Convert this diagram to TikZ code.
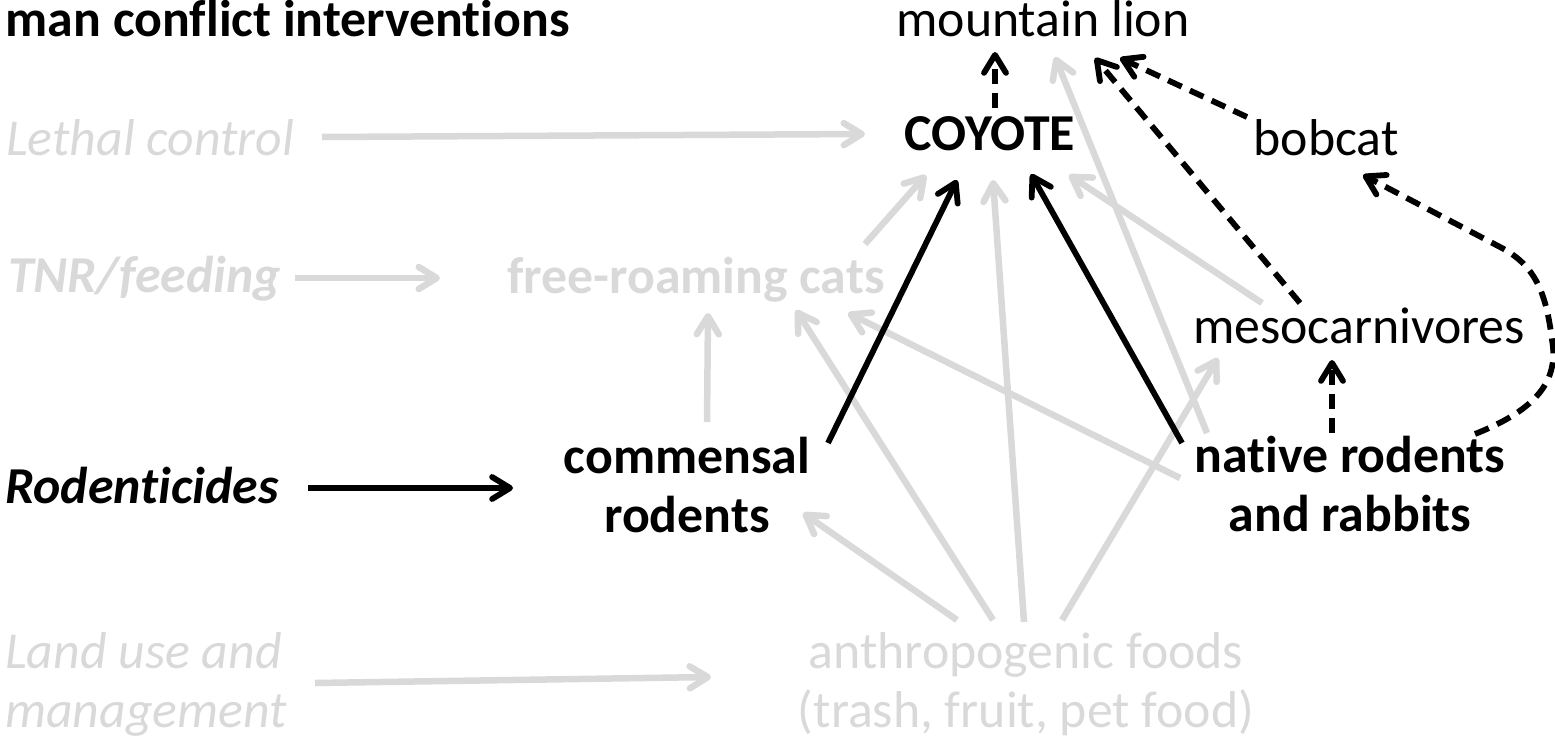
\documentclass[tikz,border=0pt]{standalone}
\usepackage{fontspec}
\setmainfont{Carlito}[RawFeature={-liga;-clig;-dlig}]
\usetikzlibrary{arrows.meta}
\definecolor{lg}{HTML}{D9D9D9}
\begin{document}
\begin{tikzpicture}[x=1bp,y=-1bp,
  lbl/.style={inner sep=0pt, font=\fontsize{52}{60}\selectfont},
  tip/.style={-{Straight Barb[length=18bp,width=22bp,line cap=round,line join=round]}},
  garrow/.style={draw=lg, line width=6.5bp, tip},
  barrow/.style={draw=black, line width=5.8bp, tip},
  darrow/.style={draw=black, line width=5.8bp, dash pattern=on 15bp off 9bp, tip},
]
\useasboundingbox (0,0) rectangle (1555,743);
% labels
\node[lbl, anchor=base east, font=\fontsize{52}{60}\selectfont\bfseries] (title) at (570,37) {man conflict interven{}tions};
\node[lbl, anchor=base west, text=lg, font=\fontsize{52}{60}\selectfont\itshape] (lethal) at (6,155) {Lethal control};
\node[lbl, anchor=base west, text=lg, font=\fontsize{52}{60}\selectfont\bfseries\itshape] (tnr) at (8,292) {TNR/feeding};
\node[lbl, anchor=base west, font=\fontsize{52}{60}\selectfont\bfseries\itshape] (rod) at (5,503) {Roden{}ticides};
\node[lbl, anchor=base west, text=lg, font=\fontsize{52}{60}\selectfont\itshape] (land) at (5,668) {\begin{tabular}[t]{@{}l@{}}Land use and\\management\end{tabular}};
\node[lbl, anchor=base, font=\fontsize{52}{60}\selectfont\bfseries] (coyote) at (990,150) {COYOTE};
\node[lbl, anchor=base] (lion) at (1043,37) {mountain lion};
\node[lbl, anchor=base] (bobcat) at (1326,155) {bobcat};
\node[lbl, anchor=base, text=lg, font=\fontsize{52}{60}\selectfont\bfseries] (cats) at (696,293) {free-roaming cats};
\node[lbl, anchor=base] (meso) at (1359,343) {mesocarnivores};
\node[lbl, anchor=base, font=\fontsize{52}{60}\selectfont\bfseries] (comm) at (687,473) {\begin{tabular}[t]{@{}c@{}}commensal\\rodents\end{tabular}};
\node[lbl, anchor=base, font=\fontsize{52}{60}\selectfont\bfseries] (native) at (1350,472) {\begin{tabular}[t]{@{}c@{}}native rodents\\and rabbits\end{tabular}};
\node[lbl, anchor=base, text=lg] (anthro) at (1026,668) {\begin{tabular}[t]{@{}c@{}}anthropogenic foods\\(trash, fruit, pet food)\end{tabular}};
% connector end points
\coordinate (lethalE) at (322,137); \coordinate (coyW) at (865,134);
\coordinate (tnrE) at (295,278); \coordinate (catsW) at (440,278);
\coordinate (landE) at (315,683); \coordinate (anthroW) at (711,677);
\coordinate (catsNE) at (865,244); \coordinate (coySW) at (926,175);
\coordinate (commN) at (707,422); \coordinate (catsS) at (708,313);
\coordinate (anA) at (957,620); \coordinate (commE) at (803,513);
\coordinate (anB) at (993,620); \coordinate (catsSE) at (796,310);
\coordinate (anC) at (1024,622); \coordinate (coyS) at (993,180);
\coordinate (anD) at (1062,620); \coordinate (mesoSW) at (1218,358);
\coordinate (natA) at (1180,478); \coordinate (catsSE2) at (848,313);
\coordinate (natB) at (1207,433); \coordinate (lionS) at (1055,57);
\coordinate (mesoA) at (1262,303); \coordinate (coySE) at (1069,175);
\coordinate (rodE) at (308,488); \coordinate (commW) at (513,488);
\coordinate (commNE) at (828,443); \coordinate (coyS2) at (957,180);
\coordinate (natC) at (1182,443); \coordinate (coyS3) at (1031,174);
\coordinate (coyN) at (995,108); \coordinate (lionS2) at (995,52);
\coordinate (mesoB) at (1300,303); \coordinate (lionS3) at (1095,58);
\coordinate (bobW) at (1247,117); \coordinate (lionS4) at (1120,58);
\coordinate (natN) at (1332,433); \coordinate (mesoS) at (1332,360);
\coordinate (natNE) at (1475,434); \coordinate (bobS) at (1363,175);
% gray connectors
\draw[garrow] (lethalE) -- (coyW);
\draw[garrow] (tnrE) -- (catsW);
\draw[garrow] (landE) -- (anthroW);
\draw[garrow] (catsNE) -- (coySW);
\draw[garrow] (commN) -- (catsS);
\draw[garrow] (anA) -- (commE);
\draw[garrow] (anB) -- (catsSE);
\draw[garrow] (anC) -- (coyS);
\draw[garrow] (anD) -- (mesoSW);
\draw[garrow] (natA) -- (catsSE2);
\draw[garrow] (natB) -- (lionS);
\draw[garrow] (mesoA) -- (coySE);
% black connectors
\draw[barrow] (rodE) -- (commW);
\draw[barrow] (commNE) -- (coyS2);
\draw[barrow] (natC) -- (coyS3);
% dashed connectors
\draw[darrow] (coyN) -- (lionS2);
\draw[darrow] (mesoB) -- (lionS3);
\draw[darrow] (bobW) -- (lionS4);
\draw[darrow] (natN) -- (mesoS);
\draw[darrow] (natNE) .. controls (1530,412) and (1560,385) .. (1552,340) .. controls (1546,292) and (1535,265) .. (1500,247) -- (bobS);
\end{tikzpicture}
\end{document}
